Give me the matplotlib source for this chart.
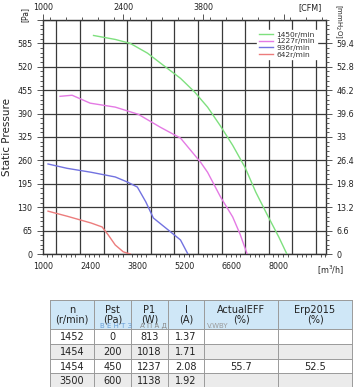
import matplotlib
matplotlib.use("Agg")
import matplotlib.pyplot as plt
from matplotlib.ticker import MultipleLocator, FixedLocator

# fan curves: airflow [m3/h], static pressure [Pa]
q1450 = [2500, 3145, 3590, 4100, 4574, 5081, 5500, 5885, 6250, 6630, 7000, 7315, 7650, 8000, 8238]
p1450 = [607, 596, 585, 558, 524, 488, 450, 408, 358, 302, 240, 172, 110, 47, 0]
q1227 = [1506, 1864, 2400, 3145, 3830, 4485, 5081, 5677, 5885, 6272, 6630, 6850, 7060]
p1227 = [438, 441, 419, 408, 388, 352, 322, 255, 227, 158, 103, 55, 0]
q936 = [1149, 1715, 2430, 3145, 3502, 3800, 4050, 4276, 4700, 5081, 5300]
p936 = [250, 238, 227, 214, 200, 186, 145, 100, 68, 39, 0]
q642 = [1149, 1715, 2430, 2757, 2936, 3145, 3383, 3590]
p642 = [119, 105, 86, 75, 53, 25, 6, 0]

speeds = ["1450r/min", "1227r/min", "936r/min", "642r/min"]
colors = ["#7ee07e", "#e47ae4", "#7272e0", "#ec7c7c"]

# performance table
col_heads = ["n\n(r/min)", "Pst\n(Pa)", "P1\n(W)", "I\n(A)", "ActualEFF\n(%)", "Erp2015\n(%)"]
rows = [["1452", "0", "813", "1.37", "", ""],
        ["1454", "200", "1018", "1.71", "", ""],
        ["1454", "450", "1237", "2.08", "55.7", "52.5"],
        ["3500", "600", "1138", "1.92", "", ""]]

W, H = 359, 387
fig = plt.figure(figsize=(W / 100, H / 100), dpi=100)
plt.rcParams["font.family"] = ["DejaVu Sans"]

L, R, T, B = 43, 326, 20, 254
ax = fig.add_axes([L / W, 1 - B / H, (R - L) / W, (B - T) / H])
ax.set_xlim(1000, 9400)
ax.set_ylim(0, 650)
for q, p, c, s in zip([q1450, q1227, q936, q642], [p1450, p1227, p936, p642], colors, speeds):
    ax.plot(q, p, color=c, lw=1.0, label=s, zorder=3)

ax.xaxis.set_major_locator(MultipleLocator(700))
ax.xaxis.set_minor_locator(MultipleLocator(140))
ax.yaxis.set_major_locator(MultipleLocator(65))
ax.yaxis.set_minor_locator(MultipleLocator(13))
ax.grid(True, which="major", color="#3a3a3a", lw=0.9)
ax.set_xticklabels([])
for v in range(1000, 8001, 1400):
    ax.text(v, -22, str(v), ha="center", va="top", fontsize=5.8, color="#222")
ax.set_yticks(range(0, 651, 65))
ax.set_yticklabels([str(v) for v in range(0, 586, 65)] + [""], fontsize=5.8, color="#222")
ax.tick_params(which="both", direction="out", color="#555", width=0.7)
ax.tick_params(which="major", length=4)
ax.tick_params(which="minor", length=2.5)
ax.tick_params(axis="x", which="major", length=0)
for sp in ax.spines.values():
    sp.set_linewidth(1.0)
    sp.set_color("#333")
ax.set_ylabel("Static Pressure", fontsize=7.5, color="#222", labelpad=4)

# right axis in mmH2O
axr = ax.twinx()
axr.set_ylim(0, 66)
axr.set_yticks([0, 6.6, 13.2, 19.8, 26.4, 33, 39.6, 46.2, 52.8, 59.4])
axr.set_yticklabels(["0", "6.6", "13.2", "19.8", "26.4", "33", "39.6", "46.2", "52.8", "59.4"],
                    fontsize=5.8, color="#222")
axr.yaxis.set_minor_locator(MultipleLocator(1.32))
axr.tick_params(which="both", direction="out", color="#555", width=0.7)
axr.tick_params(which="major", length=4)
axr.tick_params(which="minor", length=2.5)

# top axis in CFM
axt = ax.twiny()
axt.set_xlim(1000, 1000 + 8400 / 1.7)
axt.xaxis.set_major_locator(FixedLocator([1000, 2400, 3800, 5200]))
axt.set_xticklabels(["1000", "2400", "3800", ""], fontsize=5.8, color="#222")
axt.xaxis.set_minor_locator(MultipleLocator(280))
axt.tick_params(which="both", direction="out", color="#555", width=0.7, pad=2)
axt.tick_params(which="major", length=4)
axt.tick_params(which="minor", length=2.5)
for a in (axr, axt):
    for sp in a.spines.values():
        sp.set_visible(False)

fig.text(310 / W, 1 - 8 / H, "[CFM]", fontsize=5.8, ha="center", va="center", color="#222")
fig.text(338 / W, 1 - 21 / H, "[mmH$_2$O]", fontsize=5, rotation=-90, ha="center", va="center", color="#222")
fig.text(25 / W, 1 - 14 / H, "[Pa]", fontsize=5.5, rotation=90, ha="center", va="center", color="#222")
fig.text(331 / W, 1 - 270 / H, "[m$^3$/h]", fontsize=5.8, ha="center", va="center", color="#222")

leg = ax.legend(loc="upper right", bbox_to_anchor=(0.98, 0.975), fontsize=5.4, frameon=True,
                fancybox=False, edgecolor="white", framealpha=1, handlelength=1.9,
                handletextpad=0.4, labelspacing=0.05, borderpad=0.25)
for t in leg.get_texts():
    t.set_color("#333")

# table
cx = [50, 94, 131, 168, 204, 278, 352]
ry = [300, 329, 344, 359, 373, 388]
tab = fig.add_axes([0, 0, 1, 1])
tab.set_xlim(0, W)
tab.set_ylim(H, 0)
tab.axis("off")
fills = ["#cfe7f7", "white", "#ebebeb", "white", "#ebebeb"]
for i in range(5):
    tab.add_patch(plt.Rectangle((cx[0], ry[i]), cx[-1] - cx[0], ry[i + 1] - ry[i],
                                facecolor=fills[i], edgecolor="none"))
for y in ry:
    tab.plot([cx[0], cx[-1]], [y, y], color="#9a9a9a", lw=0.7)
for x in cx:
    tab.plot([x, x], [ry[0], ry[-1]], color="#9a9a9a", lw=0.7)
for j, h in enumerate(col_heads):
    tab.text((cx[j] + cx[j + 1]) / 2, (ry[0] + ry[1]) / 2, h, ha="center", va="center",
             fontsize=7, color="#222", linespacing=0.95)
for i, row in enumerate(rows):
    for j, v in enumerate(row):
        tab.text((cx[j] + cx[j + 1]) / 2, (ry[i + 1] + ry[i + 2]) / 2 + 0.5, v,
                 ha="center", va="center", fontsize=7, color="#222")
tab.text(100, 326, "В Е Н Т З", fontsize=5, color="#6aa0d8", ha="left", va="center")
tab.text(140, 326, "А П А Д", fontsize=5, color="#8a8a8a", ha="left", va="center")
tab.text(207, 326, "V.WBY", fontsize=5, color="#9a9a9a", ha="left", va="center")

fig.savefig("out.png", dpi=100)
